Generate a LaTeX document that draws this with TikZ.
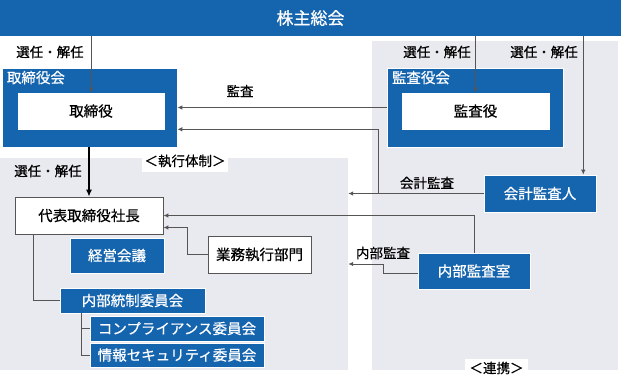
\documentclass[tikz,border=0pt]{standalone}
\usepackage{fontspec}
\setmainfont{Noto Sans CJK JP}[FakeBold=0.6]
\usepackage{tikz}
\usetikzlibrary{arrows.meta,backgrounds,calc,positioning}
\definecolor{orgblue}{RGB}{21,100,174}
\definecolor{zonegray}{RGB}{233,234,239}
\definecolor{wiregray}{RGB}{85,85,85}
\tikzset{
  bluebox/.style={draw=white,line width=0.6pt,fill=orgblue,text=white,
    inner sep=0pt,font=\fontsize{14.5}{16}\selectfont},
  whitebox/.style={draw=wiregray,line width=0.8pt,fill=white,text=black,
    inner sep=0pt,font=\fontsize{14.5}{16}\selectfont},
  boardbox/.style={draw=white,line width=0.6pt,fill=orgblue,inner sep=0pt},
  zone/.style={fill=zonegray,draw=none,inner sep=0pt},
  tag/.style={fill=white,inner sep=0pt,font=\fontsize{13.5}{15}\selectfont},
  lab/.style={inner sep=1pt,font=\fontsize{13.5}{15}\selectfont},
  grplab/.style={anchor=north west,text=white,inner sep=0pt,
    font=\fontsize{14.5}{16}\selectfont},
  wire/.style={draw=wiregray,line width=1pt},
  flow/.style={-{Latex[length=5pt,width=4.5pt]},draw=wiregray,line width=1pt},
  mainflow/.style={-{Latex[length=7pt,width=6pt]},draw=black,line width=1.3pt}
}

\begin{document}
\begin{tikzpicture}[x=1pt,y=-1pt]
  \useasboundingbox (0,0) rectangle (621,376);
  % zones
  \node[zone,minimum width=348,minimum height=212] (exec) at (174,264) {};
  \node[zone,minimum width=246,minimum height=329] (audit) at (495,205.5) {};
  \node[tag,minimum width=86,minimum height=22] (exectag) at (185,161) {＜執行体制＞};
  \node[tag,minimum width=63,minimum height=18] (linktag) at (496.5,368) {＜連携＞};

  \node[bluebox,draw=none,minimum width=621,minimum height=36,
    font=\fontsize{17}{19}\selectfont] (soukai) at (310.5,18) {株主総会};

  % boards
  \node[boardbox,minimum width=175,minimum height=79] (torikai) at (89.5,107.5) {};
  \node[grplab] at ([xshift=5pt,yshift=-3pt]torikai.north west) {取締役会};
  \node[whitebox,draw=white,minimum width=146,minimum height=36] (tori) at (91,111) {取締役};
  \node[boardbox,minimum width=176,minimum height=79] (kansakai) at (475,107.5) {};
  \node[grplab] at ([xshift=5pt,yshift=-3pt]kansakai.north west) {監査役会};
  \node[whitebox,draw=white,minimum width=147,minimum height=36] (kansa) at (475.5,111) {監査役};

  \node[bluebox,minimum width=112,minimum height=37] (kaikei) at (540,193.5) {会計監査人};
  \node[bluebox,minimum width=112,minimum height=36] (naibu) at (474,271) {内部監査室};

  % executive side
  \node[whitebox,minimum width=148,minimum height=37] (shacho) at (89,215.5) {代表取締役社長};
  \node[bluebox,minimum width=94,minimum height=35] (keiei) at (117,255.5) {経営会議};
  \node[whitebox,minimum width=103,minimum height=37] (gyomu) at (259.5,254.5) {業務執行部門};
  \node[bluebox,minimum width=145,minimum height=25] (naitou) at (132.5,300.5) {内部統制委員会};
  \node[bluebox,minimum width=174,minimum height=25] (comp) at (177,328.5) {コンプライアンス委員会};
  \node[bluebox,minimum width=174,minimum height=24] (joho) at (177,355) {情報セキュリティ委員会};

  % labels
  \node[lab] (sen1) at (50,52) {選任・解任};
  \node[lab] (sen2) at (437,52) {選任・解任};
  \node[lab] (sen3) at (544,52) {選任・解任};
  \node[lab] (sen4) at (48,171) {選任・解任};
  \node[lab] (kansalab) at (240,91) {監査};
  \node[lab] (kaikeilab) at (427,183) {会計監査};
  \node[lab] (naibulab) at (383,253) {内部監査};

  % connectors
  \coordinate (kk) at ([xshift=-13pt]kaikei.north east);
  \coordinate (kj) at (378,193.5);
  \coordinate (nk) at (383,264);
  \draw[flow] (soukai.south -| tori.north) -- (tori.north);
  \draw[flow] (soukai.south -| kansa.north) -- (kansa.north);
  \draw[flow] (soukai.south -| kk) -- (kk);
  \draw[flow] (kansakai.west) -- (torikai.east);
  \draw[flow] (kaikei.west) -- (exec.east |- kaikei.west);
  \draw[flow] (kj) |- ([yshift=18pt]torikai.south east);
  \draw[flow] (naibu.north) |- (shacho.east);
  \draw[flow] (gyomu.west) -- ++(-20,0) |- ([yshift=-12pt]shacho.east);
  \draw[flow] ([yshift=-2pt]naibu.west) -| (nk) -- (exec.east |- nk);
  \draw[mainflow] (torikai.south -| shacho.north) -- (shacho.north);
  \draw[wire] ([xshift=19pt]shacho.south west) |- (naitou.west);
  \draw[wire] ([xshift=22pt]naitou.south west) |- (joho.west);
  \draw[wire] ([xshift=22pt]naitou.south west) |- (comp.west);
\end{tikzpicture}
\end{document}
